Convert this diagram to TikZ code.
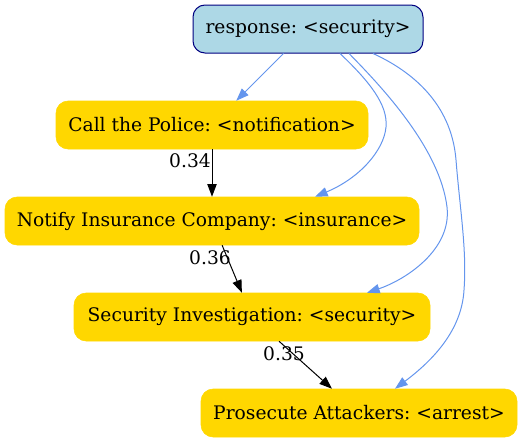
\documentclass[tikz,border=0pt]{standalone}
\usepackage{fontspec}
\setmainfont{DejaVu Serif}
\frenchspacing
\usetikzlibrary{arrows.meta,calc}
\definecolor{boxblue}{HTML}{ADD8E6}
\definecolor{boxgold}{HTML}{FFD700}
\definecolor{edgeblue}{HTML}{6495ED}
\definecolor{navyline}{HTML}{000080}
\begin{document}
\begin{tikzpicture}[x=0.75pt,y=-0.75pt,every node/.style={font=\fontsize{14}{16}\selectfont},
  act/.style={fill=boxgold,draw=boxgold,rounded corners=9pt,minimum height=36pt,inner sep=0pt},
  resp/.style={fill=boxblue,draw=navyline,line width=0.75pt,rounded corners=9pt,minimum height=36pt,inner sep=0pt},
  tip/.style={-{Triangle[length=9.5pt,width=7pt]},line width=0.75pt},
  lbl/.style={inner sep=0pt}]
\useasboundingbox (0,0) rectangle (521,443);
% response node
\node[resp,minimum width=172.5pt] (resp) at (308,29) {response: <security>};
% action chain
\node[act,minimum width=234pt] (call) at (212,125) {Call the Police: <notification>};
\node[act,minimum width=310.5pt] (notify) at (212,221) {Notify Insurance Company: <insurance>};
\node[act,minimum width=267pt] (secur) at (252,317) {Security Investigation: <security>};
\node[act,minimum width=237pt] (pros) at (359,413) {Prosecute Attackers: <arrest>};
% weighted edges
\draw[tip] (call) -- (notify);
\draw[tip] (notify) -- (secur);
\draw[tip] (secur) -- (pros);
\node[lbl] (w1) at (190,161) {0.34};
\node[lbl] (w2) at (210,258) {0.36};
\node[lbl] (w3) at (284,354) {0.35};
% response edges
\draw[tip,edgeblue] (resp) -- (call);
\draw[tip,edgeblue] ($(resp.south)+(32,0)$) .. controls (370,82) and (388,105) .. (386,127)
  .. controls (384,150) and (360,178) .. ($(notify.north)+(103,0)$);
\draw[tip,edgeblue] ($(resp.south)+(41,0)$) .. controls (385,90) and (440,150) .. (447,207)
  .. controls (452,250) and (405,280) .. ($(secur.north)+(115,0)$);
\draw[tip,edgeblue] ($(resp.south)+(65,0)$) .. controls (420,75) and (452,110) .. (456,160)
  .. controls (460,210) and (467,250) .. (464,290)
  .. controls (462,325) and (440,355) .. ($(pros.north)+(36,0)$);
\end{tikzpicture}
\end{document}
